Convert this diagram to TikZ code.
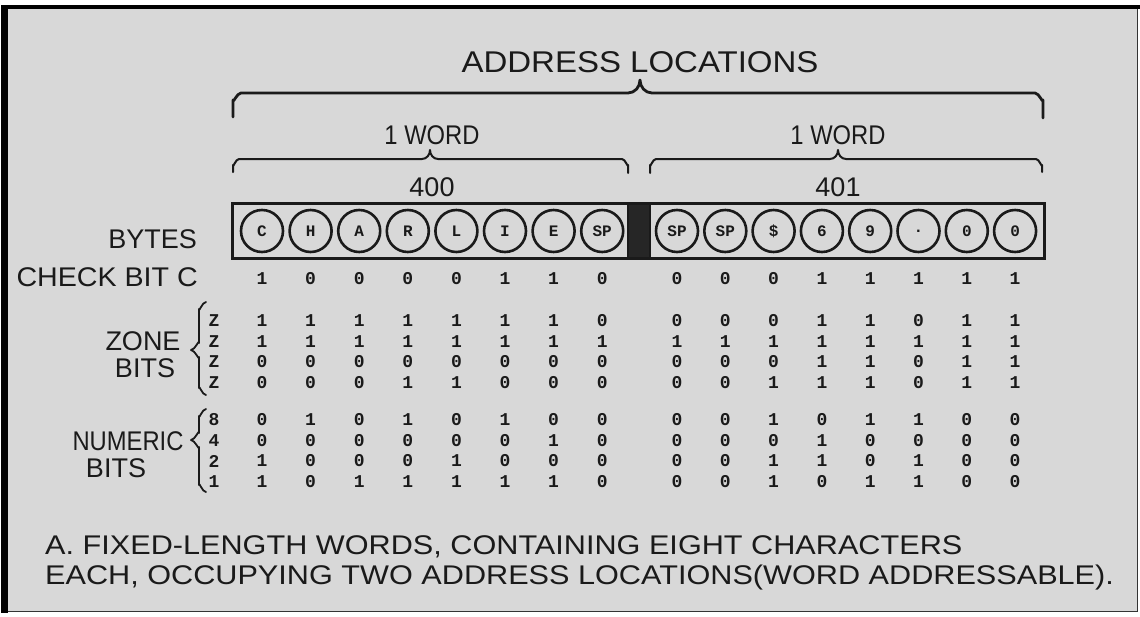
\documentclass[tikz,border=0pt]{standalone}
\usepackage{fontspec}
\setmainfont{Liberation Sans}
\newfontfamily\monof{Liberation Mono}
\newfontfamily\widesans[FakeStretch=1.1]{Liberation Sans}
\newfontfamily\capsans[FakeStretch=1.135]{Liberation Sans}
\newfontfamily\checksans[FakeStretch=1.06]{Liberation Sans}
\newfontfamily\condsans[FakeStretch=0.88]{Liberation Sans}
\definecolor{bg}{HTML}{D8D8D8}
\definecolor{ink}{HTML}{1A1A1A}
\begin{document}
\begin{tikzpicture}[x=1pt,y=-1pt,
  lbl/.style={font=\fontsize{27}{30}\selectfont, text=ink, inner sep=0pt},
  big/.style={font=\widesans\fontsize{30}{34}\selectfont, text=ink, inner sep=0pt},
  captext/.style={font=\capsans\fontsize{27}{30}\selectfont, text=ink, inner sep=0pt, anchor=west},
  bit/.style={font=\monof\bfseries\fontsize{18}{20}\selectfont, text=ink, inner sep=0pt},
  byte/.style={circle, draw=ink, line width=2.6pt, minimum size=42pt, inner sep=0pt,
     font=\monof\bfseries\fontsize{16}{18}\selectfont, text=ink},
  brace/.style={draw=ink, line width=2.8pt, line cap=round, line join=round},
  vbrace/.style={draw=ink, line width=1.8pt, line cap=round, line join=round}]
\useasboundingbox (0,0) rectangle (1140,616);
% frame
\fill[white] (0,0) rectangle (1140,616);
\fill[bg] (4,7) rectangle (1138,612);
\fill[black] (1,5) rectangle (1140,9);
\fill[black] (1,5) rectangle (8,613);
\draw[black!80, line width=1.5pt] (8,611.5) -- (1137.5,611.5) -- (1137.5,9);
% titles
\node[big] (title) at (640,62) {ADDRESS LOCATIONS};
\draw[brace] (233,117) -- (233,100) to[out=-90,in=180] (241,93) -- (628,93) to[out=0,in=-90] (640,80) to[out=-90,in=180] (652,93) -- (1035,93) to[out=0,in=-90] (1043,100) -- (1043,118);
\node[lbl, font=\condsans\fontsize{27}{30}\selectfont] (w1) at (432,135) {1 WORD};
\node[lbl, font=\condsans\fontsize{27}{30}\selectfont] (w2) at (838,135) {1 WORD};
\draw[brace, line width=2pt] (233,172) -- (233,165) to[out=-90,in=180] (239,159) -- (422,159) to[out=0,in=-90] (430,150) to[out=-90,in=180] (438,159) -- (622,159) to[out=0,in=-90] (628,165) -- (628,173);
\draw[brace, line width=2pt] (650,173) -- (650,165) to[out=-90,in=180] (656,159) -- (830,159) to[out=0,in=-90] (838,150) to[out=-90,in=180] (846,159) -- (1036,159) to[out=0,in=-90] (1042,165) -- (1042,172);
\node[lbl] (a400) at (432,187) {400};
\node[lbl] (a401) at (838,187) {401};
% byte box
\fill[black!85] (628,203) rectangle (650,258);
\draw[ink, line width=3pt] (232,203) rectangle (1044,258);
\draw[ink, line width=2pt] (628,203) -- (628,258) (650,203) -- (650,258);
% left labels
\node[lbl, anchor=east] (bytes) at (197,239) {BYTES};
\node[lbl, anchor=east, font=\checksans\fontsize{27}{30}\selectfont] (check) at (198,277) {CHECK BIT C};
\node[lbl] (zone) at (143,341) {ZONE};
\node[lbl] (zbits) at (145,368) {BITS};
\node[lbl, font=\condsans\fontsize{27}{30}\selectfont] (numeric) at (128,441) {NUMERIC};
\node[lbl] (nbits) at (116,468) {BITS};
% vertical braces
\draw[vbrace] (206,302) to[out=180,in=-90] (199,309) -- (199,343) to[out=90,in=0] (191,350) to[out=0,in=-90] (199,357) -- (199,388) to[out=90,in=180] (206,395);
\draw[vbrace] (206,409) to[out=180,in=-90] (199,416) -- (199,433) to[out=90,in=0] (191,440) to[out=0,in=-90] (199,447) -- (199,485) to[out=90,in=180] (206,492);
% row labels
\coordinate (chk) at (0,279);
\foreach \t [count=\r] in {Z,Z,Z,Z} \node[bit] (zl\r) at (214,{300.5+20.5*\r}) {\t};
\foreach \t [count=\r] in {8,4,2,1} \node[bit] (nl\r) at (214,{399.5+20.5*\r}) {\t};
% bytes
\foreach \ch [count=\i] in {C,H,A,R,L,I,E,SP,SP,SP,\$,6,9,.,0,0}{
  \pgfmathsetmacro\xx{\i<9 ? 262+48.6*(\i-1) : 677+48.3*(\i-9)}
  \node[byte] (b\i) at (\xx,231) {\ch};
}
\foreach \v [count=\i] in {1,0,0,0,0,1,1,0, 0,0,0,1,1,1,1,1}{
  \node[bit] (c\i) at (b\i |- chk) {\v};}
\foreach \row [count=\r] in {
  {1,1,1,1,1,1,1,0, 0,0,0,1,1,0,1,1},
  {1,1,1,1,1,1,1,1, 1,1,1,1,1,1,1,1},
  {0,0,0,0,0,0,0,0, 0,0,0,1,1,0,1,1},
  {0,0,0,1,1,0,0,0, 0,0,1,1,1,0,1,1}}{
  \foreach \v [count=\i] in \row {
    \node[bit] (z\r-\i) at (b\i |- zl\r) {\v};}}
\foreach \row [count=\r] in {
  {0,1,0,1,0,1,0,0, 0,0,1,0,1,1,0,0},
  {0,0,0,0,0,0,1,0, 0,0,0,1,0,0,0,0},
  {1,0,0,0,1,0,0,0, 0,0,1,1,0,1,0,0},
  {1,0,1,1,1,1,1,0, 0,0,1,0,1,1,0,0}}{
  \foreach \v [count=\i] in \row {
    \node[bit] (n\r-\i) at (b\i |- nl\r) {\v};}}
% caption
\node[captext] (cap1) at (45,547) {A. FIXED-LENGTH WORDS, CONTAINING EIGHT CHARACTERS};
\node[captext] (cap2) at (45,578) {EACH, OCCUPYING TWO ADDRESS LOCATIONS(WORD ADDRESSABLE).};
\end{tikzpicture}
\end{document}
